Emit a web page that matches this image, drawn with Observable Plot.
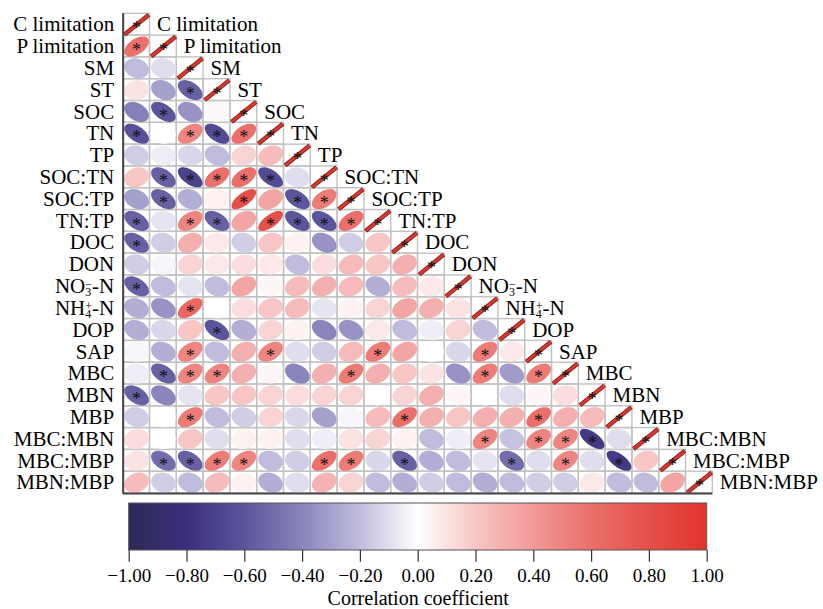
<!DOCTYPE html>
<html>
<head>
<meta charset="utf-8">
<script src="https://cdn.jsdelivr.net/npm/d3@7"></script>
<script src="https://cdn.jsdelivr.net/npm/@observablehq/plot@0.6"></script>
<style>
  html, body { margin: 0; padding: 0; background: #fff; }
  svg { display: block; }
</style>
</head>
<body>
<div id="chart"></div>
<script>
// ---------------- data ----------------
const variables = ["C limitation","P limitation","SM","ST","SOC","TN","TP","SOC:TN","SOC:TP","TN:TP","DOC","DON","NO₃⁻-N","NH₄⁺-N","DOP","SAP","MBC","MBN","MBP","MBC:MBN","MBC:MBP","MBN:MBP"];

// lower triangle of the correlation matrix, row i holds correlations with columns 0..i-1
const lowerTriangle = [
  [],
  [0.6],
  [-0.2, -0.1],
  [0.1, -0.3, -0.55],
  [-0.42, -0.6, -0.35, 0.02],
  [-0.62, 0.0, 0.5, -0.65, 0.6],
  [-0.15, -0.05, -0.12, -0.2, 0.15, 0.25],
  [0.2, -0.55, -0.7, 0.6, 0.6, -0.65, -0.1],
  [-0.3, -0.55, -0.25, 0.05, 0.8, 0.35, -0.6, 0.55],
  [-0.55, -0.08, 0.5, -0.55, 0.35, 0.8, -0.6, -0.6, 0.6],
  [-0.55, -0.15, 0.3, 0.08, -0.15, 0.2, 0.05, -0.35, -0.15, 0.2],
  [-0.15, -0.03, 0.15, 0.08, 0.12, 0.08, -0.2, 0.12, 0.25, 0.2, 0.3],
  [-0.55, -0.2, -0.08, -0.2, 0.35, 0.03, 0.25, 0.3, 0.25, -0.25, 0.25, 0.08],
  [-0.25, -0.35, 0.65, 0.0, 0.12, 0.2, 0.25, -0.08, 0.05, 0.15, 0.35, 0.3, 0.1],
  [-0.25, -0.12, 0.2, -0.6, -0.25, 0.15, 0.05, -0.4, -0.35, 0.08, -0.2, -0.05, 0.15, -0.2],
  [-0.03, -0.25, 0.5, -0.2, 0.3, 0.5, -0.1, -0.15, 0.25, 0.55, 0.35, 0.0, -0.12, 0.55, 0.08],
  [-0.05, -0.55, 0.5, 0.5, 0.3, 0.03, -0.4, 0.3, 0.55, 0.3, 0.2, 0.1, -0.35, 0.55, -0.32, 0.55],
  [-0.55, -0.4, -0.08, 0.2, 0.2, 0.15, 0.12, 0.15, 0.15, 0.0, 0.15, 0.3, 0.03, 0.0, -0.1, 0.03, 0.12],
  [-0.15, 0.0, 0.55, -0.2, -0.15, 0.15, -0.12, -0.3, -0.03, 0.25, 0.6, 0.3, 0.2, 0.3, 0.3, 0.6, 0.3, 0.25],
  [0.12, 0.0, 0.2, -0.1, 0.05, 0.05, -0.1, -0.05, 0.1, 0.15, 0.05, -0.2, -0.05, 0.5, -0.18, 0.5, 0.5, -0.75, -0.1],
  [0.1, -0.5, -0.55, 0.55, 0.5, -0.2, -0.15, 0.6, 0.55, -0.12, -0.55, -0.25, -0.2, -0.08, -0.5, -0.1, 0.5, -0.1, -0.75, 0.2],
  [0.25, -0.15, -0.2, 0.25, 0.05, -0.25, -0.1, 0.28, 0.15, -0.2, -0.25, -0.15, -0.2, -0.25, -0.2, -0.15, -0.15, 0.08, -0.2, -0.2, 0.35]
];

const significanceThreshold = 0.48; // |r| above which the cell carries a "*"
const colorTicks = [-1, -0.8, -0.6, -0.4, -0.2, 0, 0.2, 0.4, 0.6, 0.8, 1];
const paletteStops = ["#2e2a58", "#3b2f7c", "#5b559c", "#8a85bc", "#c0bcdd", "#ffffff", "#f7c6c5", "#f19a97", "#eb706b", "#e5504a", "#e0352c"];
const legendTitle = "Correlation coefficient";

// ---------------- derived tables ----------------
const n = variables.length;
const cells = [];
lowerTriangle.forEach((row, i) => row.forEach((r, j) => cells.push({i, j, r})));
const gridCells = [];
for (let i = 0; i < n; i++) for (let j = 0; j <= i; j++) gridCells.push({i, j});
const diagonal = d3.range(n);

const shapeFactor = 0.85; // eccentricity damping of the ellipse glyph
const ellipsePoints = cells.flatMap((c, k) => {
  const d = Math.acos(Math.max(-1, Math.min(1, c.r * shapeFactor)));
  return d3.range(72).map(s => {
    const t = s / 72 * 2 * Math.PI;
    return {id: k, r: c.r, x: c.j + 0.5 + 0.46 * Math.cos(t + d / 2), y: c.i + 0.5 - 0.46 * Math.cos(t - d / 2)};
  });
});
const starCells = cells.filter(c => Math.abs(c.r) >= significanceThreshold)
  .concat(diagonal.map(i => ({i, j: i, r: 1})));

const colorScale = {type: "linear", domain: [-1, 1], interpolate: d3.piecewise(d3.interpolateRgb, paletteStops)};
const serif = "'Liberation Serif', 'Times New Roman', serif";

// ---------------- matrix ----------------
const matrix = Plot.plot({
  width: 823,
  height: 497,
  x: {domain: [0, n], range: [122.7, 712.3], axis: null},
  y: {domain: [0, n], range: [13.3, 493], axis: null},
  color: colorScale,
  style: {background: "#fff", color: "#000", fontFamily: serif, overflow: "visible"},
  marks: [
    Plot.rect(gridCells, {x1: d => d.j, x2: d => d.j + 1, y1: d => d.i, y2: d => d.i + 1, fill: "none", stroke: "#c2c2c2", strokeWidth: 1.4}),
    Plot.line(ellipsePoints, {x: "x", y: "y", z: "id", fill: "r", stroke: "none", curve: "linear-closed"}),
    Plot.link(diagonal, {x1: d => d + 0.04, y1: d => d + 0.96, x2: d => d + 0.96, y2: d => d + 0.04, stroke: "#7a2a22", strokeWidth: 4.4}),
    Plot.link(diagonal, {x1: d => d + 0.05, y1: d => d + 0.95, x2: d => d + 0.95, y2: d => d + 0.05, stroke: () => 1, strokeWidth: 2.6}),
    Plot.text(starCells, {x: d => d.j + 0.5, y: d => d.i + 0.5, text: () => "*", fontSize: 18, dy: 4, fill: "#111", fontFamily: serif}),
    Plot.text(variables, {x: 0, y: (d, i) => i + 0.5, text: d => d, textAnchor: "end", dx: -9, fontSize: 21, fill: "#000", fontFamily: serif}),
    Plot.text(variables, {x: (d, i) => i + 1, y: (d, i) => i + 0.5, text: d => d, textAnchor: "start", dx: 7, fontSize: 21, fill: "#000", fontFamily: serif}),
    Plot.ruleX([0], {y1: 0, y2: n, stroke: "#444", strokeWidth: 2}),
    Plot.ruleY([n], {x1: 0, x2: n, stroke: "#444", strokeWidth: 2})
  ]
});

// ---------------- colour bar ----------------
const rampStep = 0.005;
const rampStops = d3.range(-1, 1, rampStep);
const legend = Plot.plot({
  width: 823,
  height: 112,
  x: {domain: [-1, 1], range: [128.7, 706.7], axis: null},
  y: {domain: [0, 1], range: [6, 53], axis: null},
  color: colorScale,
  style: {background: "#fff", color: "#000", fontFamily: serif, overflow: "visible"},
  marks: [
    Plot.rect(rampStops, {x1: d => d, x2: d => Math.min(1, d + rampStep * 1.6), y1: 0, y2: 1, fill: d => d + rampStep / 2}),
    Plot.rect([0], {x1: -1, x2: 1, y1: 0, y2: 1, fill: "none", stroke: "#555", strokeWidth: 1}),
    Plot.ruleX(colorTicks, {x: d => d, y1: 1, y2: 1.25, stroke: "#333", strokeWidth: 1.2}),
    Plot.text(colorTicks, {x: d => d, y: 1.55, text: d => d3.format(".2f")(d), fontSize: 19, fill: "#000", fontFamily: serif}),
    Plot.text([legendTitle], {x: 0, y: 2.02, text: d => d, fontSize: 20, fill: "#000", fontFamily: serif})
  ]
});

const host = document.getElementById("chart");
host.appendChild(matrix);
host.appendChild(legend);

// render ion labels with stacked sub/superscripts
d3.select(matrix).selectAll("text").each(function () {
  const t = this.textContent;
  let parts = null;
  if (t === "NO₃⁻-N") parts = ["NO", "3", "−", "-N"];
  if (t === "NH₄⁺-N") parts = ["NH", "4", "+", "-N"];
  if (!parts) return;
  const el = d3.select(this);
  el.text(null);
  el.append("tspan").text(parts[0]);
  el.append("tspan").attr("font-size", 12).attr("dy", 3).text(parts[1]);
  el.append("tspan").attr("font-size", 12).attr("dx", -6).attr("dy", -8).text(parts[2]);
  el.append("tspan").attr("dy", 5).text(parts[3]);
});
</script>
</body>
</html>
